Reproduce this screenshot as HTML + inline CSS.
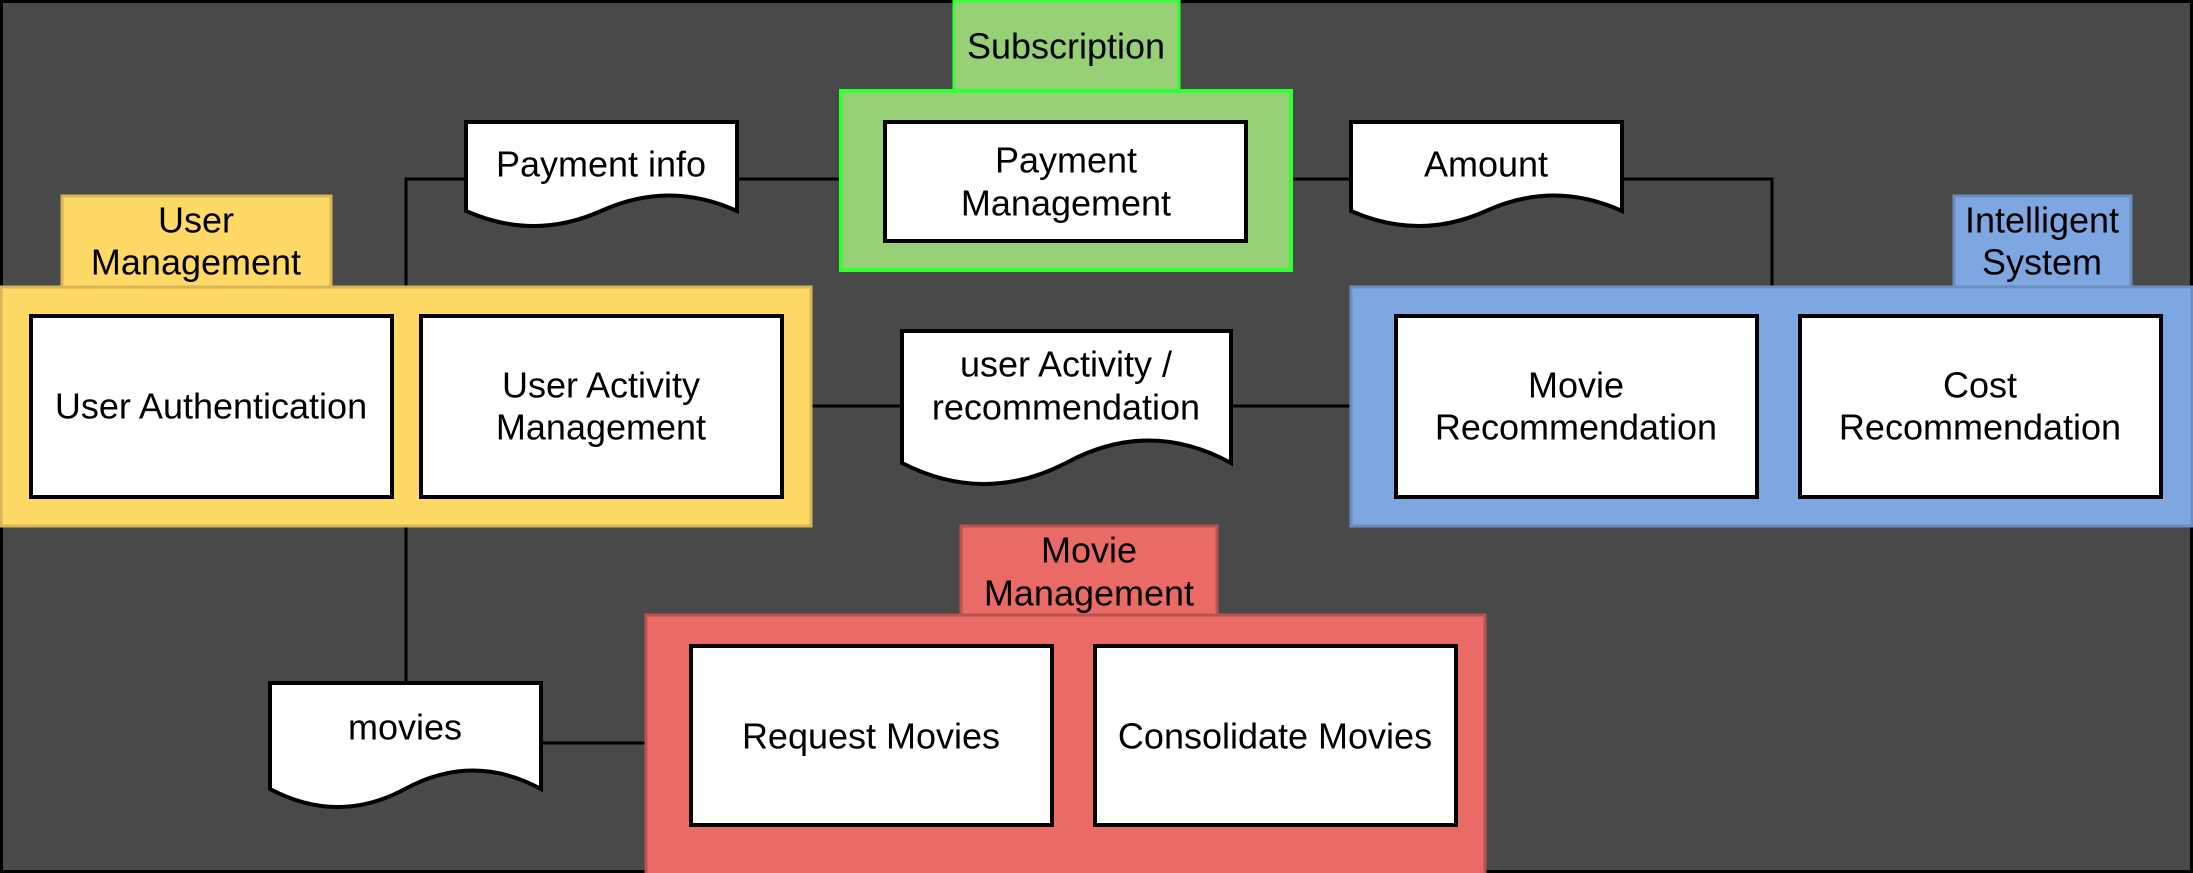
<!DOCTYPE html>
<html><head><meta charset="utf-8"><style>
html,body{margin:0;padding:0;background:#494949}
svg{display:block}
text{font-family:"Liberation Sans",Arial,sans-serif;font-size:36px;fill:#000;text-anchor:middle;dominant-baseline:central}
</style></head><body>
<svg width="2193" height="873" viewBox="0 0 2193 873" xmlns="http://www.w3.org/2000/svg">
<rect x="0" y="0" width="2193" height="873" fill="#494949"/>
<rect x="1.5" y="1.5" width="2190" height="870" fill="none" stroke="#000" stroke-width="3"/>

<g stroke="#000" stroke-width="3" fill="none">
<polyline points="466,179 406,179 406,287"/>
<line x1="737" y1="179" x2="841" y2="179"/>
<line x1="1291" y1="179" x2="1351" y2="179"/>
<polyline points="1622,179 1772,179 1772,287"/>
<line x1="811" y1="406" x2="902" y2="406"/>
<line x1="1231" y1="406" x2="1351" y2="406"/>
<line x1="406" y1="526" x2="406" y2="683"/>
<line x1="541" y1="743" x2="646" y2="743"/>
</g>

<rect x="954" y="1" width="225" height="90" fill="#97d077" stroke="#33ff33" stroke-width="3"/>
<text x="1066" y="46">Subscription</text>
<rect x="841" y="91" width="450" height="179" fill="#97d077" stroke="#33ff33" stroke-width="4"/>
<rect x="885" y="122" width="361" height="119" fill="#fff" stroke="#000" stroke-width="4"/>
<text x="1066" y="160">Payment</text>
<text x="1066" y="203">Management</text>

<rect x="62" y="196" width="269" height="91" fill="#ffd966" stroke="#d6b656" stroke-width="3"/>
<text x="196" y="220">User</text>
<text x="196" y="262">Management</text>
<rect x="1" y="287" width="810" height="239" fill="#ffd966" stroke="#d6b656" stroke-width="3"/>
<rect x="31" y="316" width="361" height="181" fill="#fff" stroke="#000" stroke-width="4"/>
<text x="211" y="406">User Authentication</text>
<rect x="421" y="316" width="361" height="181" fill="#fff" stroke="#000" stroke-width="4"/>
<text x="601" y="385">User Activity</text>
<text x="601" y="427">Management</text>

<rect x="1954" y="196" width="177" height="91" fill="#7ea6e0" stroke="#6c8ebf" stroke-width="3"/>
<text x="2042" y="220">Intelligent</text>
<text x="2042" y="262">System</text>
<rect x="1351" y="287" width="841" height="239" fill="#7ea6e0" stroke="#6c8ebf" stroke-width="3"/>
<rect x="1396" y="316" width="361" height="181" fill="#fff" stroke="#000" stroke-width="4"/>
<text x="1576" y="385">Movie</text>
<text x="1576" y="427">Recommendation</text>
<rect x="1800" y="316" width="361" height="181" fill="#fff" stroke="#000" stroke-width="4"/>
<text x="1980" y="385">Cost</text>
<text x="1980" y="427">Recommendation</text>

<rect x="961" y="526" width="256" height="89" fill="#ea6b66" stroke="#b85450" stroke-width="3"/>
<text x="1089" y="550">Movie</text>
<text x="1089" y="593">Management</text>
<rect x="646" y="615" width="839" height="260" fill="#ea6b66" stroke="#b85450" stroke-width="3"/>
<rect x="691" y="646" width="361" height="179" fill="#fff" stroke="#000" stroke-width="4"/>
<text x="871" y="736">Request Movies</text>
<rect x="1095" y="646" width="361" height="179" fill="#fff" stroke="#000" stroke-width="4"/>
<text x="1275" y="736">Consolidate Movies</text>

<g fill="#fff" stroke="#000" stroke-width="4">
<path d="M466,122 H737 V211 Q669,180 601,211 Q534,241 466,211 Z"/>
<path d="M1351,122 H1622 V211 Q1554,180 1486,211 Q1419,241 1351,211 Z"/>
<path d="M902,331 H1231 V463 Q1149,418 1066,463 Q984,505 902,463 Z"/>
<path d="M270,683 H541 V789 Q473,752 405,789 Q338,825 270,789 Z"/>
</g>
<text x="601" y="164">Payment info</text>
<text x="1486" y="164">Amount</text>
<text x="1066" y="364">user Activity /</text>
<text x="1066" y="407">recommendation</text>
<text x="405" y="727">movies</text>
</svg>
</body></html>
